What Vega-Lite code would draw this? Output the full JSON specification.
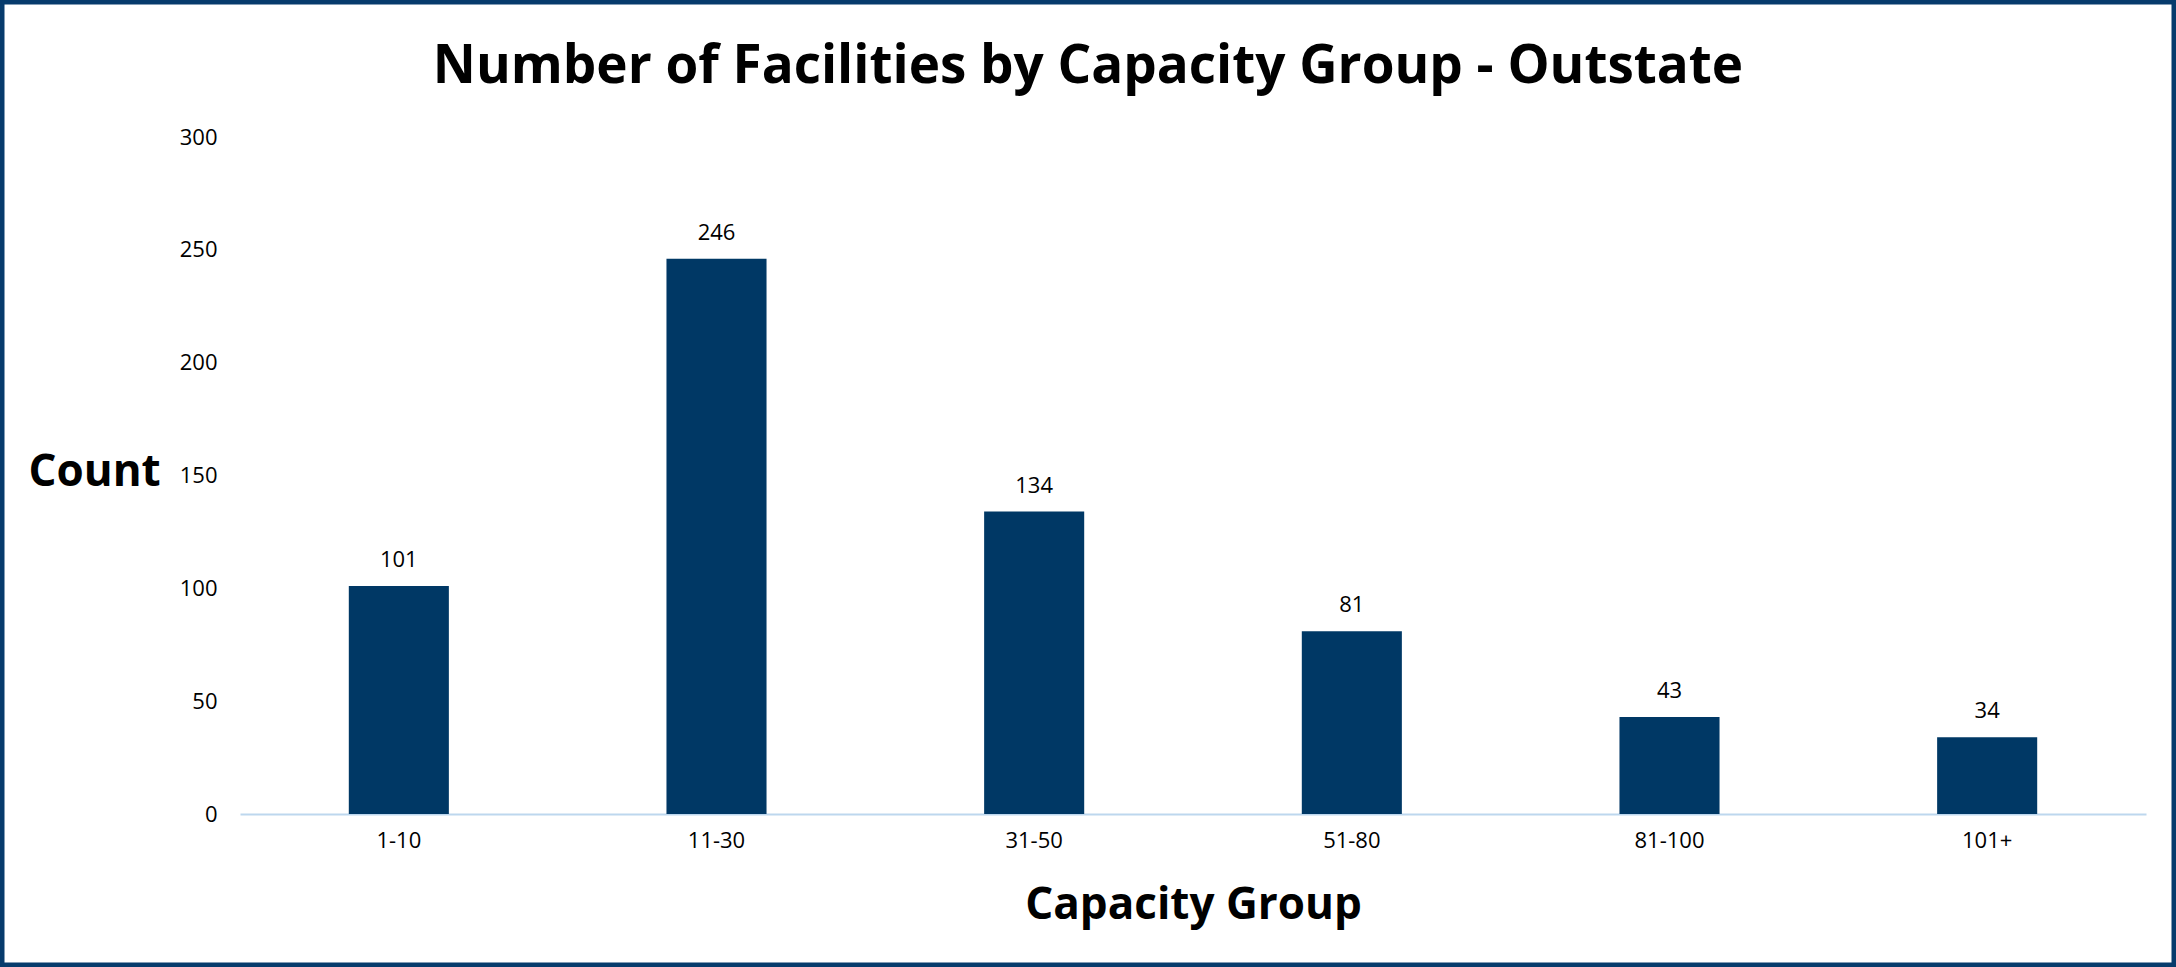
{
  "$schema": "https://vega.github.io/schema/vega-lite/v6.json",
  "width": 2176,
  "height": 967,
  "autosize": {"type": "none"},
  "padding": 0,
  "background": "white",
  "title": {
    "text": "Number of Facilities by Capacity Group - Outstate",
    "font": "Open Sans",
    "fontSize": 53,
    "fontWeight": "bold",
    "color": "black",
    "anchor": "middle",
    "frame": "group",
    "baseline": "alphabetic",
    "offset": 0,
    "dy": 136
  },
  "config": {
    "view": {"stroke": "#063b6c", "strokeWidth": 9, "fill": "white"}
  },
  "data": {
    "values": [
      {"group": "1-10", "count": 101},
      {"group": "11-30", "count": 246},
      {"group": "31-50", "count": 134},
      {"group": "51-80", "count": 81},
      {"group": "81-100", "count": 43},
      {"group": "101+", "count": 34}
    ]
  },
  "encoding": {
    "x": {
      "field": "group",
      "type": "nominal",
      "sort": null,
      "scale": {"range": [240, 2146], "paddingInner": 0.685, "paddingOuter": 0.3425},
      "axis": {
        "orient": "bottom",
        "offset": -153,
        "domain": true,
        "domainColor": "#bdd7ee",
        "domainWidth": 2,
        "ticks": false,
        "grid": false,
        "labelAngle": 0,
        "labelPadding": 16,
        "labelFont": "Open Sans",
        "labelFontSize": 22,
        "labelColor": "black",
        "title": "Capacity Group",
        "titleFont": "Open Sans",
        "titleFontSize": 44,
        "titleFontWeight": "bold",
        "titleColor": "black",
        "titleX": 1193,
        "titleY": 104,
        "titleAlign": "center",
        "titleBaseline": "alphabetic"
      }
    },
    "y": {
      "field": "count",
      "type": "quantitative",
      "scale": {"domain": [0, 300], "range": [814, 137], "nice": false, "zero": true},
      "axis": {
        "orient": "left",
        "offset": -240,
        "domain": false,
        "ticks": false,
        "grid": false,
        "values": [0, 50, 100, 150, 200, 250, 300],
        "labelPadding": 23,
        "labelFont": "Open Sans",
        "labelFontSize": 22,
        "labelColor": "black",
        "title": "Count",
        "titleFont": "Open Sans",
        "titleFontSize": 44,
        "titleFontWeight": "bold",
        "titleColor": "black",
        "titleAngle": 0,
        "titleAlign": "left",
        "titleBaseline": "alphabetic",
        "titleX": -212,
        "titleY": 485
      }
    }
  },
  "layer": [
    {"mark": {"type": "bar", "color": "#003865"}},
    {
      "mark": {"type": "text", "font": "Open Sans", "fontSize": 22, "color": "black", "baseline": "alphabetic", "dy": -19},
      "encoding": {"text": {"field": "count", "type": "quantitative"}}
    }
  ]
}
